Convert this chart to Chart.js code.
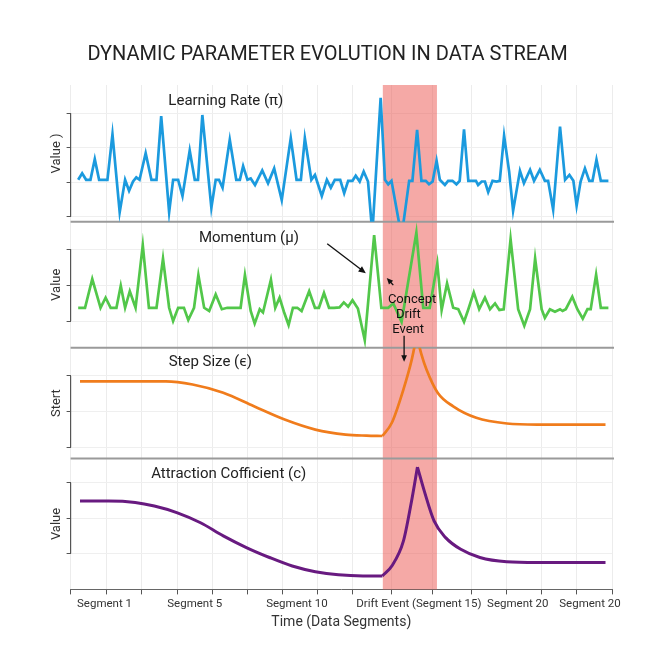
<!DOCTYPE html>
<html>
<head>
<meta charset="utf-8">
<script src="https://cdn.jsdelivr.net/npm/chart.js@4.4.1/dist/chart.umd.min.js"></script>
<style>
  html, body { margin: 0; padding: 0; background: #fff; }
  #wrap { width: 669px; height: 669px; }
</style>
</head>
<body>
<div id="wrap"><canvas id="chart" width="669" height="669"></canvas></div>
<script>
// Dados (tempo em unidades de segmento no eixo)
const lrTime = [0.21,0.32,0.43,0.55,0.67,0.79,0.90,1.02,1.16,1.36, 1.51,1.62,1.73,1.82,1.91,2.08,2.24,2.38,2.51,2.73,
    2.84,2.98,3.10,3.30,3.44,3.53,3.65,3.90,4.02,4.11, 4.21,4.41,4.59,4.69,4.78,4.90,4.99,5.11,5.31,5.47,
    5.64,5.85,6.10,6.26,6.38,6.49,6.67,6.77,6.96,7.10, 7.21,7.32,7.47,7.58,7.69,7.81,7.90,8.01,8.12,8.24,
    8.36,8.59,8.71,8.80,8.89,9.17,9.38,9.47,9.60,9.72, 9.84,9.93,10.03,10.14,10.23,10.37,10.46,10.58,10.69,10.78,
    10.90,11.02,11.14,11.23,11.29,11.39,11.48,11.57,11.69,11.80, 11.89,12.01,12.15,12.26,12.45,12.56,12.73,12.84,13.00,13.14,
    13.23,13.37,13.56,13.70,13.82,13.93,14.02,14.13,14.25,14.37, 14.46,14.57,14.69,14.90];
const lrValue = [1.07,1.26,1.07,1.07,1.67,1.07,1.07,1.07,2.39,0.13, 1.07,0.75,1.02,1.14,1.07,1.84,1.07,1.07,2.92,0.13,
    1.07,1.07,0.60,1.92,1.07,1.07,2.95,0.26,1.07,1.07, 0.84,2.23,1.07,1.07,1.47,1.07,1.11,0.92,1.34,0.97,
    1.40,0.48,2.28,1.07,1.07,2.28,1.07,1.21,0.60,1.07, 0.84,1.07,1.07,0.68,1.04,1.04,1.19,1.02,1.31,1.02,
    -0.48,3.45,1.07,0.94,1.04,-0.58,1.04,1.04,2.52,1.04, 1.04,0.94,1.02,1.62,1.07,0.92,1.04,1.04,0.94,1.04,
    2.53,1.04,1.04,1.04,0.92,1.02,1.02,0.71,1.04,1.02, 1.04,2.35,1.31,0.17,1.33,0.97,1.36,1.04,1.36,1.04,
    1.04,0.20,2.61,1.07,1.21,1.04,0.32,1.02,1.40,1.04, 1.04,1.65,1.04,1.04];

const momTime = [0.21,0.40,0.60,0.83,0.97,1.11,1.27,1.39,1.51,1.64, 1.80,2.00,2.17,2.38,2.56,2.73,2.84,2.98,3.14,3.26,
    3.42,3.54,3.70,3.84,4.02,4.19,4.34,4.59,4.71,4.83, 4.99,5.10,5.24,5.33,5.55,5.67,5.79,5.91,6.04,6.16,
    6.28,6.40,6.61,6.77,6.88,7.02,7.16,7.30,7.45,7.57, 7.69,7.81,7.96,8.15,8.41,8.61,8.80,8.94,9.17,9.58,
    9.77,9.95,10.16,10.28,10.43,10.60,10.74,10.90,11.02,11.17, 11.32,11.48,11.62,11.76,11.88,12.00,12.19,12.40,12.57,12.73,
    12.87,13.05,13.14,13.28,13.42,13.56,13.63,13.72,13.90,14.04, 14.19,14.32,14.41,14.56,14.69,14.90];
const momValue = [0.37,0.37,1.17,0.37,0.65,0.37,0.37,0.98,0.37,0.83, 0.37,2.11,0.37,0.37,1.74,0.37,0.00,0.37,0.37,0.03,
    0.37,1.28,0.37,0.28,0.74,0.33,0.37,0.37,0.37,1.28, 0.28,-0.07,0.33,0.24,1.15,0.37,0.65,0.26,-0.11,0.37,
    0.37,0.28,0.83,0.37,0.37,0.78,0.37,0.37,0.38,0.52, 0.40,0.58,0.35,-0.53,2.39,0.37,0.37,0.49,-0.02,2.46,
    0.37,0.37,1.60,0.31,1.05,0.37,0.33,-0.02,0.33,0.80, 0.33,0.65,0.33,0.49,0.31,0.33,2.28,0.33,-0.13,0.33,
    1.74,0.33,0.09,0.33,0.26,0.33,0.28,0.33,0.68,0.33, 0.07,0.33,0.33,1.29,0.37,0.37];

const stepTime = [0.26,1.50,2.64,3.38,4.23,5.08,5.93,6.78,7.62,8.20,8.64,8.90,9.22,9.45,9.59,9.72,9.86,10.17,10.60,11.24,12.09,12.93,14.82];
const stepValue = [1.85,1.85,1.85,1.76,1.53,1.15,0.78,0.50,0.36,0.33,0.32,0.69,1.62,2.45,3.13,2.60,2.18,1.53,1.15,0.83,0.67,0.64,0.64];

const attrTime = [0.26,1.05,1.79,2.32,2.96,3.60,4.23,4.87,5.51,6.14,6.78,7.42,8.10,8.64,8.90,9.22,9.43,9.61,9.80,10.07,10.39,10.81,11.34,12.08,12.93,14.82];
const attrValue = [1.48,1.48,1.44,1.34,1.15,0.87,0.50,0.17,-0.11,-0.35,-0.51,-0.60,-0.63,-0.63,-0.35,0.35,1.39,2.44,1.76,0.92,0.45,0.12,-0.11,-0.23,-0.25,-0.25];

// Eixo x: rótulos e marcas
const segLabels = ['Segment 1', 'Segment 5', 'Segment 10', 'Drift Event (Segment 15)', 'Segment 20', 'Segment 20'];
const segLabelPos = [0.94, 3.44, 6.27, 9.65, 12.39, 14.39];
const gridTicks = [0, 0.995, 1.97, 2.96, 3.93, 4.90, 5.87, 6.84, 7.82, 8.90, 10.03, 11.12, 12.09, 13.06, 14.03, 15];
const driftStart = 8.65, driftEnd = 10.15;
const driftOnset = 8.64;

const FONT = 'Roboto, "Noto Sans", "DejaVu Sans", sans-serif';

function toXY(ts, vs) {
    return ts.map((t, i) => ({ x: t, y: vs[i] }));
}

// divide a curva no início do drift e no pico (cantos vivos)
function spikeParts(ts, vs) {
    const pts = toXY(ts, vs);
    const iOn = ts.indexOf(driftOnset);
    const iPeak = vs.indexOf(Math.max(...vs));
    return [pts.slice(0, iOn + 1), pts.slice(iOn, iPeak + 1), pts.slice(iPeak)];
}

function smoothSets(label, ts, vs, axis, color, width) {
    return spikeParts(ts, vs).map(part => ({
        label: label, data: part, yAxisID: axis, borderColor: color, borderWidth: width,
        pointRadius: 0, cubicInterpolationMode: 'monotone'
    }));
}

function panelScale(title, min, max, ticks, weight, stackWeight) {
    return {
        type: 'linear', position: 'left', stack: 'panels', stackWeight: stackWeight, weight: weight,
        min: min, max: max,
        afterBuildTicks: s => { s.ticks = ticks.map(v => ({ value: v })); },
        ticks: { display: false },
        grid: { color: '#efefef', tickColor: '#555', tickLength: 4, lineWidth: 1 },
        border: { display: false },
        title: { display: true, text: title, color: '#333', font: { family: FONT, size: 13 }, padding: { top: 6, bottom: 2 } }
    };
}

function arrow(ctx, xA, yA, xB, yB, head) {
    const ang = Math.atan2(yB - yA, xB - xA);
    ctx.beginPath();
    ctx.moveTo(xA, yA);
    ctx.lineTo(xB - Math.cos(ang) * head * 0.6, yB - Math.sin(ang) * head * 0.6);
    ctx.stroke();
    ctx.beginPath();
    ctx.moveTo(xB, yB);
    ctx.lineTo(xB - head * Math.cos(ang - 0.42), yB - head * Math.sin(ang - 0.42));
    ctx.lineTo(xB - head * Math.cos(ang + 0.42), yB - head * Math.sin(ang + 0.42));
    ctx.closePath();
    ctx.fill();
}

// faixa de drift, separadores e textos
const decor = {
    id: 'decor',
    beforeDatasetsDraw(chart) {
        const { ctx, chartArea: a, scales } = chart;
        const x = scales.x;
        ctx.save();
        const x0 = x.getPixelForValue(driftStart), x1 = x.getPixelForValue(driftEnd);
        ctx.fillStyle = 'rgba(235, 90, 85, 0.52)';
        ctx.fillRect(x0, a.top, x1 - x0, a.bottom - a.top);

        ctx.strokeStyle = '#9a9a9a';
        ctx.lineWidth = 2;
        ['y2', 'y3', 'y4'].forEach(id => {
            const yy = scales[id].top;
            ctx.beginPath(); ctx.moveTo(a.left, yy); ctx.lineTo(a.right + 2, yy); ctx.stroke();
        });

        ctx.strokeStyle = '#555';
        ctx.lineWidth = 1.2;
        ['y1', 'y2', 'y3', 'y4'].forEach(id => {
            const s = scales[id];
            const t = s.ticks;
            const yA = s.getPixelForValue(t[0].value), yB = s.getPixelForValue(t[t.length - 1].value);
            ctx.beginPath(); ctx.moveTo(s.right, yA); ctx.lineTo(s.right, yB); ctx.stroke();
        });
        ctx.restore();
    },
    afterDatasetsDraw(chart) {
        const { ctx, scales } = chart;
        const px = t => scales.x.getPixelForValue(t);
        const py = (id, v) => scales[id].getPixelForValue(v);
        ctx.save();
        ctx.fillStyle = '#222';
        ctx.textAlign = 'center';
        ctx.textBaseline = 'middle';
        ctx.font = '15px ' + FONT;
        ctx.fillText('Learning Rate (π)', px(4.30), py('y1', 3.34));
        ctx.fillText('Momentum (μ)', px(4.94), py('y2', 2.29));
        ctx.fillText('Step Size (ϵ)', px(3.87), py('y3', 2.37));
        ctx.fillText('Attraction Cofficient (c)', px(4.38), py('y4', 2.25));

        ctx.font = '13px ' + FONT;
        ctx.fillStyle = '#111';
        const ty = py('y2', 0.58);
        ctx.fillText('Concept', px(9.46), ty);
        ctx.fillText('Drift', px(9.36), ty + 15);
        ctx.fillText('Event', px(9.35), ty + 30);

        ctx.strokeStyle = '#111';
        ctx.lineWidth = 1.3;
        arrow(ctx, px(7.11), py('y2', 2.15), px(8.18), py('y2', 1.33), 8);
        arrow(ctx, px(8.94), py('y2', 1.0), px(8.76), py('y2', 1.2), 7);
        arrow(ctx, px(9.24), py('y2', -0.41), px(9.24), py('y3', 2.40), 7);
        ctx.restore();
    }
};

const ctx = document.getElementById('chart');
new Chart(ctx, {
    type: 'line',
    data: {
        datasets: [
            { label: 'Learning Rate', data: toXY(lrTime, lrValue), yAxisID: 'y1', borderColor: '#1b9ade', borderWidth: 2.7, pointRadius: 0, tension: 0 },
            { label: 'Momentum', data: toXY(momTime, momValue), yAxisID: 'y2', borderColor: '#52c74a', borderWidth: 2.7, pointRadius: 0, tension: 0 },
            ...smoothSets('Step Size', stepTime, stepValue, 'y3', '#f07c1c', 2.7),
            ...smoothSets('Attraction Coefficient', attrTime, attrValue, 'y4', '#681a80', 3)
        ]
    },
    options: {
        responsive: false,
        animation: false,
        layout: { padding: { left: 43, right: 57, top: 0, bottom: 34 } },
        plugins: {
            legend: { display: false },
            tooltip: { enabled: false },
            title: {
                display: true,
                text: 'DYNAMIC PARAMETER EVOLUTION IN DATA STREAM',
                color: '#222',
                font: { family: FONT, size: 20, weight: 'normal' },
                padding: { top: 43, bottom: 18 }
            }
        },
        scales: {
            xg: {
                type: 'linear', position: 'bottom', min: 0, max: 15, weight: 0,
                afterBuildTicks: s => { s.ticks = gridTicks.map(v => ({ value: v })); },
                ticks: { display: false },
                grid: { color: '#ececec', tickColor: '#555', tickLength: 5 },
                border: { display: true, color: '#666', width: 1 }
            },
            x: {
                type: 'linear', position: 'bottom', min: 0, max: 15, weight: 1,
                afterBuildTicks: s => { s.ticks = segLabelPos.map(v => ({ value: v })); },
                ticks: {
                    autoSkip: false, maxRotation: 0, color: '#333', padding: 3,
                    font: { family: FONT, size: 11.5 },
                    callback: (v, i) => segLabels[i]
                },
                grid: { display: false, drawTicks: false },
                border: { display: false },
                title: { display: true, text: 'Time (Data Segments)', color: '#333', font: { family: FONT, size: 14 }, padding: { top: 0, bottom: 4 } }
            },
            y1: panelScale('Value )', -0.15, 3.82, [0, 1, 2, 3], 4, 137),
            y2: panelScale('Value', -0.74, 2.76, [0, 1, 2], 3, 126),
            y3: panelScale('Stert', -0.31, 2.79, [0, 1, 2], 2, 111),
            y4: panelScale('Value', -1.01, 2.68, [0, 1, 2], 1, 131)
        }
    },
    plugins: [decor]
});
</script>
</body>
</html>
